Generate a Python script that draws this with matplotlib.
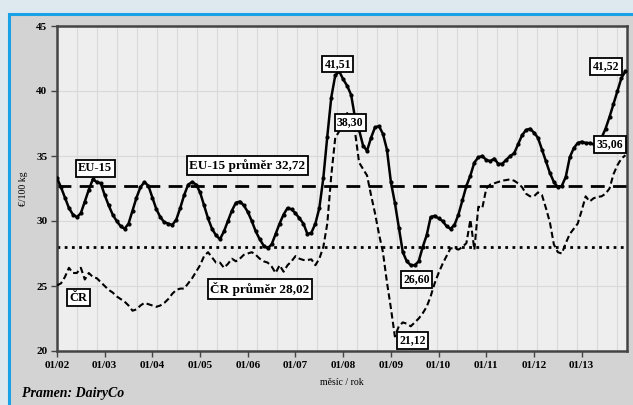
import matplotlib
matplotlib.use("Agg")
import matplotlib.pyplot as plt
import numpy as np
from matplotlib.patches import Rectangle

# monthly prices, Jan 2002 .. Dec 2013 (EUR / 100 kg)
eu15 = [33.3, 32.6, 31.8, 31.0, 30.5, 30.3, 30.6, 31.5, 32.4, 33.2, 33.0, 32.9,
        32.0, 31.2, 30.5, 30.0, 29.6, 29.4, 29.8, 30.8, 31.8, 32.6, 33.0, 32.7,
        31.8, 30.9, 30.3, 29.9, 29.8, 29.7, 30.1, 31.0, 32.0, 32.8, 33.0, 32.8,
        32.2, 31.2, 30.2, 29.4, 28.9, 28.6, 29.2, 30.0, 30.8, 31.4, 31.5, 31.2,
        30.7, 30.0, 29.2, 28.6, 28.1, 27.9, 28.2, 29.0, 29.8, 30.5, 31.0, 30.9,
        30.6, 30.2, 29.8, 29.0, 29.1, 29.8, 31.0, 33.3, 36.5, 39.5, 41.2, 41.51,
        40.9, 40.4, 39.7, 37.9, 37.0, 35.8, 35.4, 36.4, 37.2, 37.3, 36.7, 35.5,
        33.0, 31.4, 29.5, 27.6, 26.9, 26.6, 26.6, 26.9, 28.0, 28.9, 30.3, 30.4,
        30.2, 30.0, 29.6, 29.4, 29.7, 30.5, 31.6, 32.7, 33.5, 34.5, 34.9, 35.0,
        34.7, 34.6, 34.8, 34.4, 34.4, 34.7, 35.0, 35.2, 35.9, 36.6, 37.0, 37.1,
        36.8, 36.4, 35.5, 34.6, 33.7, 33.0, 32.6, 32.7, 33.4, 34.9, 35.6, 36.0,
        36.1, 36.0, 36.0, 35.9, 35.9, 36.4, 37.1, 38.0, 39.0, 40.0, 41.0, 41.52]

cr = [25.05, 25.2, 25.7, 26.4, 26.0, 26.0, 26.4, 25.5, 26.0, 25.7, 25.6, 25.3,
      25.0, 24.7, 24.5, 24.2, 24.0, 23.8, 23.5, 23.1, 23.2, 23.5, 23.7, 23.6,
      23.5, 23.4, 23.5, 23.7, 24.0, 24.4, 24.7, 24.8, 24.8, 25.2, 25.6, 26.1,
      26.6, 27.3, 27.6, 27.2, 26.8, 26.8, 26.4, 26.7, 27.1, 26.9, 27.1, 27.4,
      27.5, 27.6, 27.4, 27.1, 26.9, 26.8, 26.5, 26.0, 26.6, 26.1, 26.6, 26.9,
      27.3, 27.1, 27.0, 27.0, 27.05, 26.6, 27.1, 28.0, 29.8, 33.5, 36.4, 36.9,
      37.4, 38.3, 37.8, 36.8, 34.5, 34.0, 33.5, 32.0, 30.6, 29.0, 27.6, 25.3,
      23.3, 21.12, 21.9, 22.2, 22.1, 21.9, 22.2, 22.5, 22.9, 23.4, 24.2, 25.2,
      26.0, 26.7, 27.3, 27.9, 27.9, 27.8, 28.0, 28.3, 30.1, 27.8, 31.1, 31.0,
      32.5, 32.8, 32.9, 33.0, 33.1, 33.15, 33.2, 33.1, 32.9, 32.6, 32.1, 31.9,
      31.9, 32.2, 32.0, 31.0, 29.9, 28.2, 27.6, 27.5, 28.3, 29.0, 29.4, 29.8,
      30.8, 31.9, 31.5, 31.75, 31.85, 31.9, 32.1, 32.5, 33.6, 34.3, 34.8, 35.06]

eu15_avg = 32.72
cr_avg = 28.02
year_labels = ['01/02', '01/03', '01/04', '01/05', '01/06', '01/07',
               '01/08', '01/09', '01/10', '01/11', '01/12', '01/13']

months = np.arange(len(eu15))

plt.rcParams['font.family'] = ['Liberation Serif', 'DejaVu Serif']
plt.rcParams['font.weight'] = 'bold'

fig = plt.figure(figsize=(6.33, 4.05), dpi=100, facecolor='#dde8ef')
# gray panel with blue frame (only left and top edges visible)
fig.patches.append(Rectangle((9 / 633, -0.1), 1.0, 1.1 - 14 / 405, transform=fig.transFigure,
                             facecolor='#d3d3d3', edgecolor='#19a3e6', linewidth=2.2,
                             zorder=-5))

ax = fig.add_axes([57 / 633, 1 - 351 / 405, 570 / 633, 325 / 405])
ax.set_facecolor('#eeeeee')

ax.set_xlim(0, 143.4)
ax.set_ylim(20, 45)

for x in np.arange(0, 143.4, 5.03):
    ax.axvline(x, color='#d9d9d9', lw=0.8, zorder=1)
for y in [25, 30, 35, 40]:
    ax.axhline(y, color='#d9d9d9', lw=0.8, zorder=1)

ax.axhline(eu15_avg, color='black', lw=2.0, ls=(0, (5, 3)), zorder=2)
ax.axhline(cr_avg, color='black', lw=2.0, ls=(0, (1, 1.6)), zorder=2)

ax.plot(months, cr, color='black', lw=1.5, ls=(0, (3, 1.6)), zorder=3)
ax.plot(months, eu15, color='black', lw=1.8, marker='o', ms=2.0, zorder=4)

ax.set_xticks(np.arange(0, len(eu15), 12))
ax.set_xticklabels(year_labels)
ax.set_yticks([20, 25, 30, 35, 40, 45])
ax.tick_params(axis='both', labelsize=8, length=4, width=1, color='#444444', pad=3)
for s in ax.spines.values():
    s.set_color('#444444')
    s.set_linewidth(1.8)

ax.set_ylabel('€/100 kg', fontsize=7, labelpad=6)
ax.set_xlabel('měsíc / rok', fontsize=7, labelpad=6)

box = dict(boxstyle='square,pad=0.2', facecolor='white', edgecolor='black', linewidth=1.3)
labels = [
    (9.6, 34.04, 'EU-15', 9),
    (47.9, 34.27, 'EU-15 průměr 32,72', 9.5),
    (5.4, 24.08, 'ČR', 9),
    (51.1, 24.77, 'ČR průměr 28,02', 9.5),
    (70.6, 42.08, '41,51', 8.5),
    (73.8, 37.6, '38,30', 8.5),
    (90.5, 25.5, '26,60', 8.5),
    (89.4, 20.8, '21,12', 8.5),
    (138.1, 41.88, '41,52', 8.5),
    (139.1, 35.9, '35,06', 8.5),
]
for x, y, t, fs in labels:
    ax.text(x, y, t, fontsize=fs, fontweight='bold', ha='center', va='center',
            bbox=box, zorder=6)

fig.text(22 / 633, 1 - 393 / 405, 'Pramen: DairyCo', fontsize=10, style='italic',
         fontweight='bold', va='center', ha='left')

fig.savefig('out.png', dpi=100, facecolor=fig.get_facecolor())
